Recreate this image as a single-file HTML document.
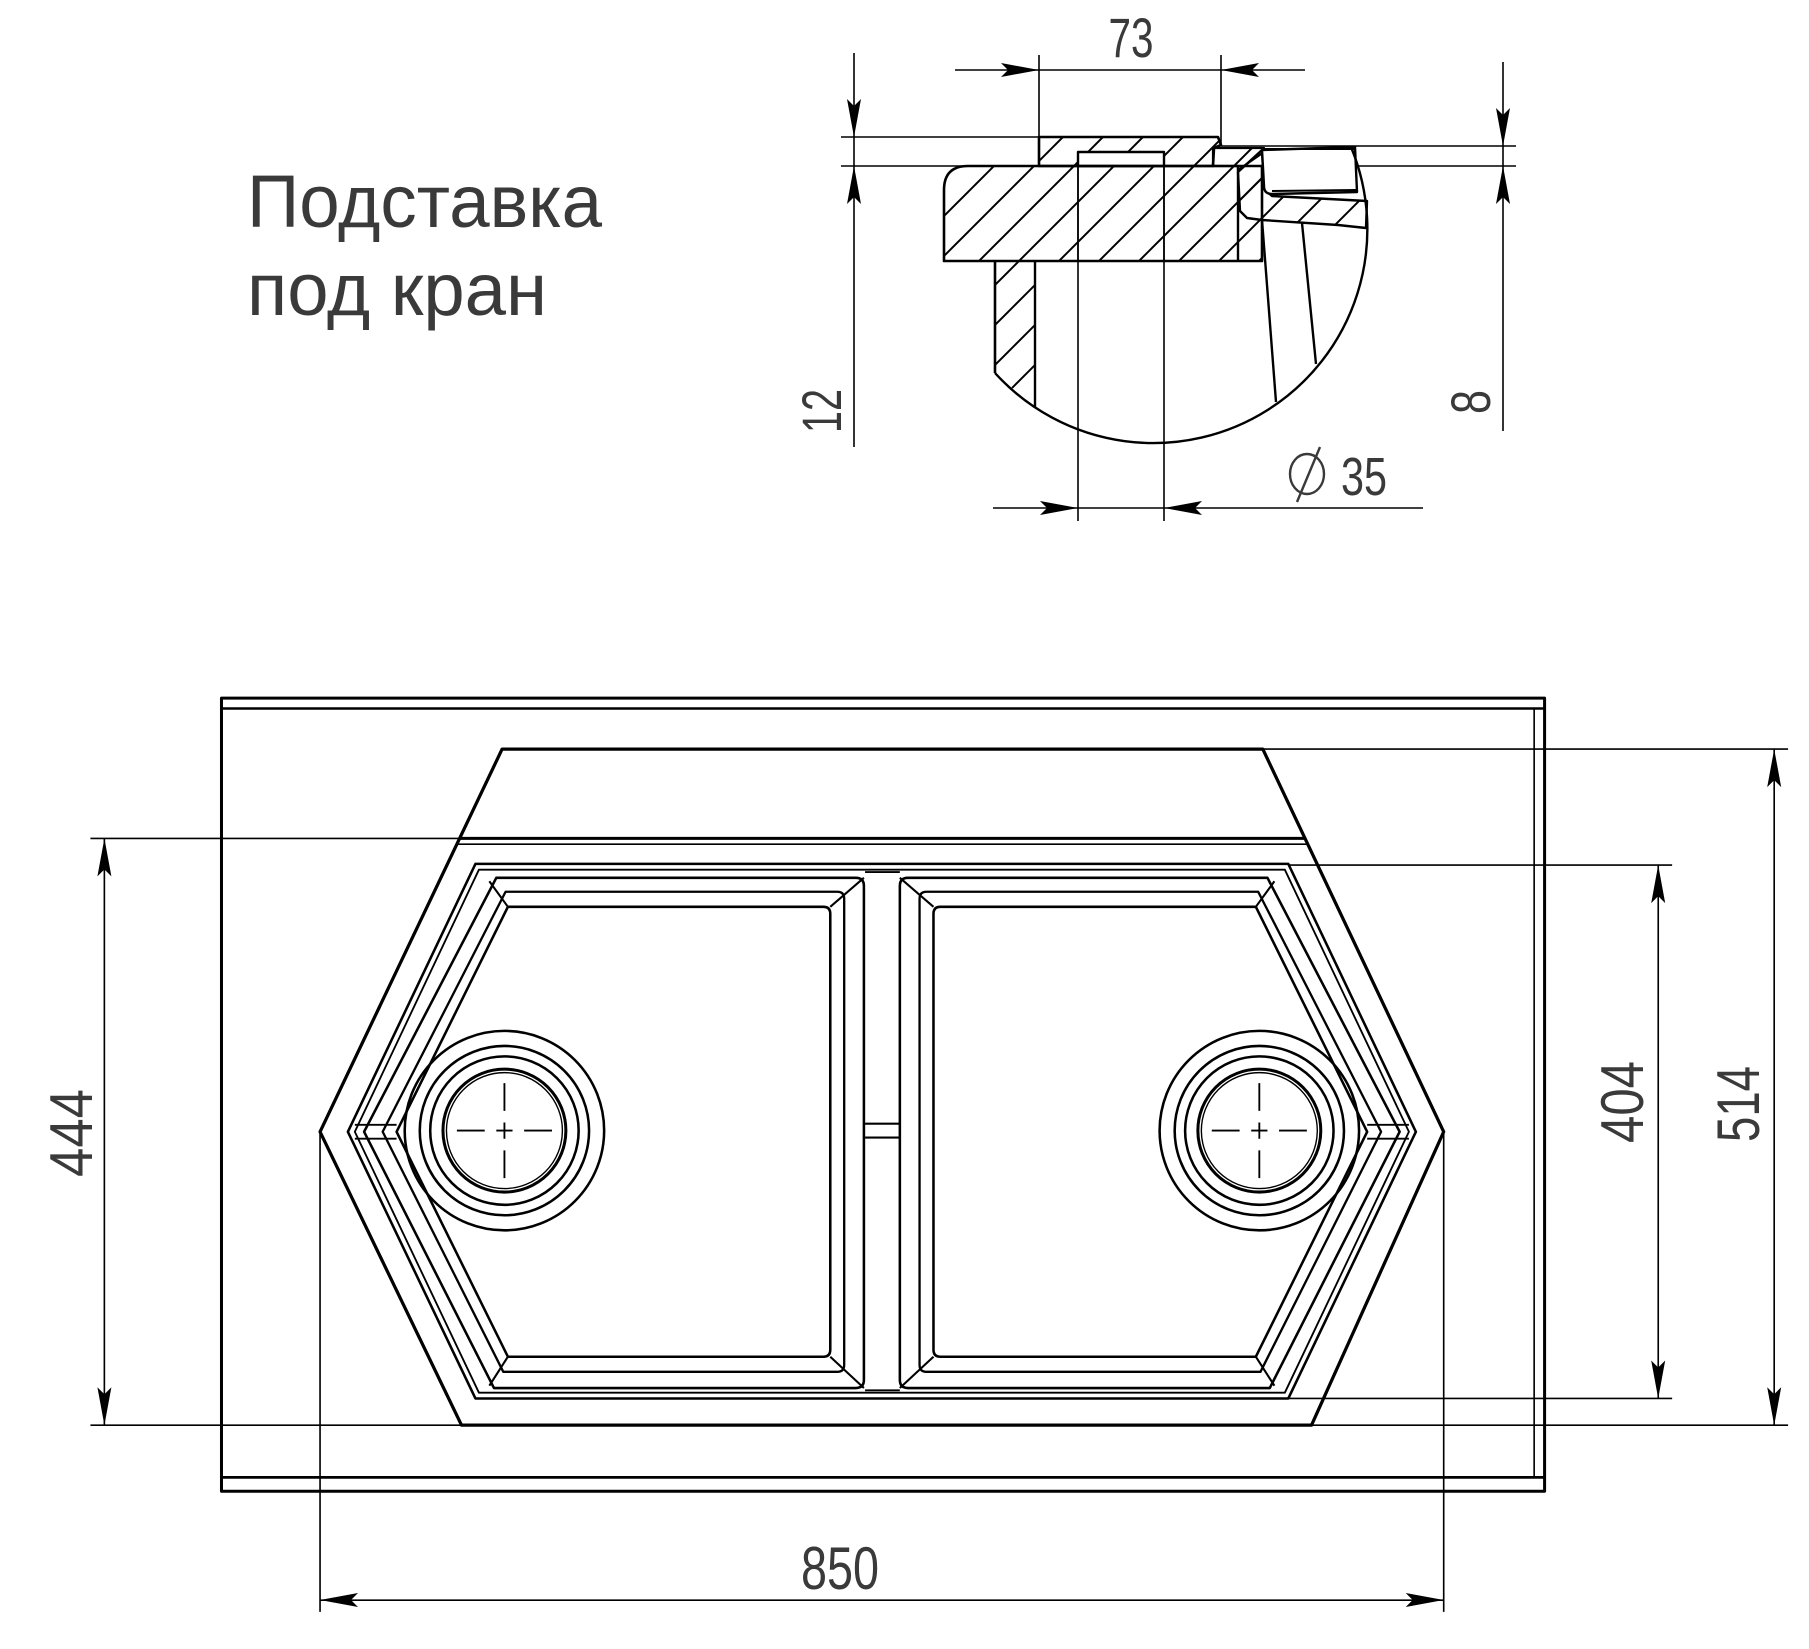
<!DOCTYPE html>
<html><head><meta charset="utf-8"><style>
html,body{margin:0;padding:0;background:#fff;}
svg{display:block}
.t{font-family:"Liberation Sans",sans-serif;fill:#3a3a3a}
</style></head><body>
<svg width="1809" height="1649" viewBox="0 0 1809 1649" xmlns="http://www.w3.org/2000/svg">
<defs>
<pattern id="h" patternUnits="userSpaceOnUse" width="40" height="40">
<path d="M-5,45 L45,-5 M-5,5 L5,-5 M35,45 L45,35" stroke="#000" stroke-width="2"/>
</pattern>
<path id="ar" d="M0,0 L-38,-7 L-31,0 L-38,7 Z" fill="#000"/>
</defs>

<!-- Title -->
<text class="t" x="247" y="227" font-size="74" fill="#444" textLength="355" lengthAdjust="spacingAndGlyphs">Подставка</text>
<text class="t" x="247" y="315" font-size="74" fill="#444" textLength="300" lengthAdjust="spacingAndGlyphs">под кран</text>

<!-- ===== TOP DETAIL (actual coords) ===== -->
<g stroke="#000" fill="none" stroke-linejoin="round">
 <line x1="955" y1="70" x2="1305" y2="70" stroke-width="1.6"/>
 <line x1="1039" y1="55" x2="1039" y2="137" stroke-width="1.6"/>
 <line x1="1221" y1="55" x2="1221" y2="145" stroke-width="1.6"/>
 <line x1="854" y1="53" x2="854" y2="447" stroke-width="1.6"/>
 <line x1="841" y1="137" x2="1039" y2="137" stroke-width="1.6"/>
 <line x1="841" y1="166" x2="1516" y2="166" stroke-width="1.6"/>
 <line x1="1221" y1="146" x2="1516" y2="146" stroke-width="1.6"/>
 <line x1="1503" y1="62" x2="1503" y2="431" stroke-width="1.6"/>
 <line x1="993" y1="508" x2="1423" y2="508" stroke-width="1.6"/>
 <line x1="1078" y1="152" x2="1078" y2="521" stroke-width="1.6"/>
 <line x1="1164" y1="152" x2="1164" y2="521" stroke-width="1.6"/>

 <path d="M1039,137 L1218,137 L1221,145 L1214,148 L1213,166 L1039,166 Z" fill="url(#h)" stroke-width="2.6"/>
 <rect x="1078" y="152" width="86" height="14" fill="#fff" stroke-width="2.4"/>
 <path d="M968,166 L1262,166 L1262,261 L944,261 L944,190 Q944,166 968,166 Z" fill="url(#h)" stroke-width="2.6"/>
 <line x1="1238" y1="166" x2="1238" y2="261" stroke-width="2.4"/>
 <line x1="1078" y1="166" x2="1078" y2="261" stroke-width="1.6"/>
 <line x1="1164" y1="166" x2="1164" y2="261" stroke-width="1.6"/>
 <path d="M1213,148 L1264,148 L1264,152 L1238,170 L1238,166 L1213,166 Z" fill="url(#h)" stroke-width="2.2"/>
 <path d="M1238,172 L1262,150 L1264,189 L1272,196 L1367,201 L1366,228 L1338,225 L1262,220 L1247,218 L1240,211 Z" fill="url(#h)" stroke-width="2.4"/>
 <path d="M1262,150 L1355,147 L1357,192 L1272,194 Q1264,194 1264,186 Z" fill="#fff" stroke-width="2.4"/>
 <line x1="1272" y1="191" x2="1356" y2="190" stroke-width="2"/>
 <line x1="1264" y1="149" x2="1355" y2="149" stroke-width="2"/>
 <path d="M995,261 L1035,261 L1035,408 L995,373 Z" fill="url(#h)" stroke="none"/>
 <line x1="995" y1="261" x2="995" y2="373" stroke-width="2.6"/>
 <line x1="1035" y1="261" x2="1035" y2="408" stroke-width="2.4"/>
 <path d="M995,373 A214,214 0 0 0 1351,147" stroke-width="2.4"/>
 <line x1="1262" y1="220" x2="1276" y2="402" stroke-width="2.4"/>
 <line x1="1302" y1="223" x2="1316" y2="364" stroke-width="2.4"/>
</g>
<use href="#ar" transform="translate(1039,70)"/>
<use href="#ar" transform="translate(1221,70) rotate(180)"/>
<use href="#ar" transform="translate(854,137) rotate(90)"/>
<use href="#ar" transform="translate(854,166) rotate(-90)"/>
<use href="#ar" transform="translate(1503,146) rotate(90)"/>
<use href="#ar" transform="translate(1503,166) rotate(-90)"/>
<use href="#ar" transform="translate(1078,508)"/>
<use href="#ar" transform="translate(1164,508) rotate(180)"/>
<text class="t" x="1131" y="57" font-size="56" text-anchor="middle" textLength="45" lengthAdjust="spacingAndGlyphs">73</text>
<text class="t" font-size="56" text-anchor="middle" textLength="44" lengthAdjust="spacingAndGlyphs" transform="translate(841,411) rotate(-90)">12</text>
<text class="t" font-size="56" text-anchor="middle" textLength="24" lengthAdjust="spacingAndGlyphs" transform="translate(1490,402) rotate(-90)">8</text>
<ellipse cx="1307" cy="474" rx="17" ry="20" fill="none" stroke="#3a3a3a" stroke-width="2.4"/>
<line x1="1320" y1="447" x2="1297" y2="502" stroke="#3a3a3a" stroke-width="2.4"/>
<text class="t" x="1341" y="495" font-size="54" textLength="46" lengthAdjust="spacingAndGlyphs">35</text>

<!-- ===== BOTTOM ===== -->
<g transform="scale(1.1596)">
<g stroke="#000" fill="none" stroke-linejoin="round">
 <rect x="191" y="602" width="1141" height="684" stroke-width="2.6"/>
 <line x1="191" y1="611" x2="1332" y2="611" stroke-width="2.2"/>
 <line x1="191" y1="1274" x2="1332" y2="1274" stroke-width="2.4"/>
 <line x1="1323" y1="611" x2="1323" y2="1274" stroke-width="1.4"/>
 <path d="M433,646 L1089,646 L1245,976 L1131,1229 L398,1229 L276,976 Z" stroke-width="2.8"/>
 <line x1="396" y1="723" x2="1126" y2="723" stroke-width="2.6"/>
 <line x1="393" y1="728" x2="1128" y2="728" stroke-width="1.4"/>
 <path d="M410,745 L1111,745 L1221,976 L1111,1206 L410,1206 L300,976 Z" stroke-width="2.2"/>
 <path d="M413,750 L1108,750 L1215,976 L1108,1201 L413,1201 L306,976 Z" stroke-width="1.6"/>
 <line x1="746" y1="969" x2="776" y2="969" stroke-width="1.8"/>
 <line x1="746" y1="981" x2="776" y2="981" stroke-width="1.8"/>
 <line x1="746" y1="1199" x2="776" y2="1199" stroke-width="1.6"/>
 <line x1="746" y1="752" x2="776" y2="752" stroke-width="1.6"/>
</g>
<g id="bowl" stroke="#000" fill="none" stroke-linejoin="round">
 <path d="M428,757 L738,757 Q745,757 745,764 L745,1190 Q745,1197 738,1197 L426,1197 L314,976 Z" stroke-width="2.2"/>
 <path d="M436,769 L722,769 Q728,769 728,775 L728,1177 Q728,1183 722,1183 L434,1183 L330,976 Z" stroke-width="2"/>
 <path d="M438,782 L710,782 Q716,782 716,788 L716,1164 Q716,1170 710,1170 L438,1170 L342,976 Z" stroke-width="2.2"/>
 <line x1="716" y1="782" x2="745" y2="757" stroke-width="1.8"/>
 <line x1="716" y1="1170" x2="745" y2="1197" stroke-width="1.8"/>
 <line x1="438" y1="782" x2="422" y2="760" stroke-width="1.8"/>
 <line x1="438" y1="1170" x2="422" y2="1195" stroke-width="1.8"/>
 <line x1="306" y1="970" x2="342" y2="970" stroke-width="1.6"/>
 <line x1="306" y1="982" x2="342" y2="982" stroke-width="1.6"/>
 <circle cx="435" cy="975" r="86" stroke-width="2.2"/>
 <circle cx="435" cy="975" r="73" stroke-width="2.2"/>
 <circle cx="435" cy="975" r="64" stroke-width="2.2"/>
 <circle cx="435" cy="975" r="53" stroke-width="2.6"/>
 <circle cx="435" cy="975" r="50" stroke-width="1.2"/>
 <path d="M394,975 H418 M428,975 H442 M452,975 H476 M435,934 V958 M435,968 V982 M435,992 V1016" stroke-width="1.6"/>
</g>
<use href="#bowl" transform="translate(1521,0) scale(-1,1)"/>

<g stroke="#000" stroke-width="1.4" fill="none">
 <line x1="90" y1="723" x2="90" y2="1229"/>
 <line x1="78" y1="723" x2="420" y2="723"/>
 <line x1="78" y1="1229" x2="398" y2="1229"/>
 <line x1="1430" y1="746" x2="1430" y2="1206"/>
 <line x1="1111" y1="746" x2="1442" y2="746"/>
 <line x1="1111" y1="1206" x2="1442" y2="1206"/>
 <line x1="1530" y1="646" x2="1530" y2="1229"/>
 <line x1="1089" y1="646" x2="1542" y2="646"/>
 <line x1="1131" y1="1229" x2="1542" y2="1229"/>
 <line x1="276" y1="1380" x2="1245" y2="1380"/>
 <line x1="276" y1="976" x2="276" y2="1390"/>
 <line x1="1245" y1="976" x2="1245" y2="1390"/>
</g>
</g>
<use href="#ar" transform="translate(104.4,838.4) rotate(-90)"/>
<use href="#ar" transform="translate(104.4,1425.2) rotate(90)"/>
<use href="#ar" transform="translate(1658.2,865.1) rotate(-90)"/>
<use href="#ar" transform="translate(1658.2,1398.5) rotate(90)"/>
<use href="#ar" transform="translate(1774.2,749.1) rotate(-90)"/>
<use href="#ar" transform="translate(1774.2,1425.2) rotate(90)"/>
<use href="#ar" transform="translate(320,1600) rotate(180)"/>
<use href="#ar" transform="translate(1443.7,1600)"/>
<text class="t" x="840" y="1589" font-size="60" text-anchor="middle" textLength="78" lengthAdjust="spacingAndGlyphs">850</text>
<text class="t" font-size="60" text-anchor="middle" textLength="88" lengthAdjust="spacingAndGlyphs" transform="translate(92,1133) rotate(-90)">444</text>
<text class="t" font-size="60" text-anchor="middle" textLength="82" lengthAdjust="spacingAndGlyphs" transform="translate(1643,1102) rotate(-90)">404</text>
<text class="t" font-size="60" text-anchor="middle" textLength="76" lengthAdjust="spacingAndGlyphs" transform="translate(1759,1104) rotate(-90)">514</text>
</svg>
</body></html>
